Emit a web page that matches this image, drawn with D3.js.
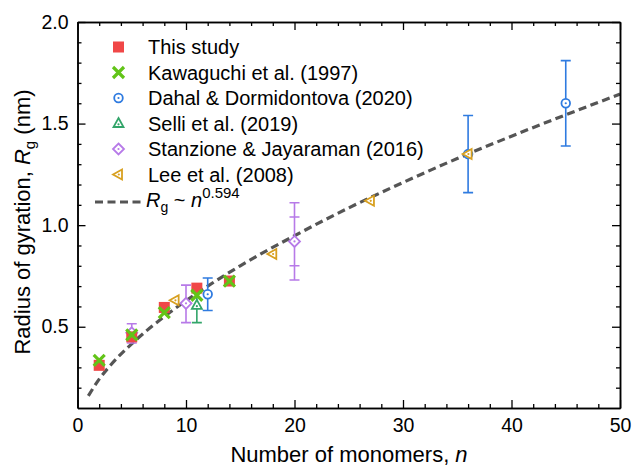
<!DOCTYPE html>
<html><head><meta charset="utf-8">
<script src="https://cdn.jsdelivr.net/npm/d3@7/dist/d3.min.js"></script>
<style>body{margin:0;background:#fff}svg{display:block}text{font-family:"Liberation Sans",Arial,sans-serif}</style>
</head><body><svg id="c" width="633" height="469"></svg>
<script>
// ---- data ----
const thisN = [2, 5, 8, 11, 14];
const thisRg = [0.31, 0.45, 0.595, 0.69, 0.725];
const kawaN = [2, 5, 8, 11, 14];
const kawaRg = [0.335, 0.46, 0.57, 0.655, 0.725];
const dahalN = [12, 36, 45];
const dahalRg = [0.66, 1.35, 1.60];
const dahalLo = [0.58, 1.16, 1.39];
const dahalHi = [0.74, 1.54, 1.81];
const selliN = [11];
const selliRg = [0.605];
const selliLo = [0.52];
const selliHi = [0.675];
const stanN = [5, 10, 20];
const stanRg = [0.47, 0.615, 0.92];
const stanLo = [0.42, 0.52, 0.73];
const stanHi = [0.515, 0.705, 1.11];
const stanInnerN = [20];
const stanInnerLo = [0.80];
const stanInnerHi = [1.04];
const leeN = [9, 18, 27, 36];
const leeRg = [0.63, 0.858, 1.12, 1.35];
const fitN = [1, 2, 3, 5, 8, 10, 12, 15, 20, 25, 30, 35, 40, 45, 50];
const fitRg = [0.16, 0.242, 0.308, 0.416, 0.55, 0.628, 0.70, 0.80, 0.948, 1.085, 1.21, 1.328, 1.438, 1.543, 1.645];
const xMajor = [0, 10, 20, 30, 40, 50];
const yMajor = [0.5, 1.0, 1.5, 2.0];
const legendLabels = ["This study", "Kawaguchi et al. (1997)", "Dahal & Dormidontova (2020)", "Selli et al. (2019)", "Stanzione & Jayaraman (2016)", "Lee et al. (2008)"];

const C = {red:"#f04747", green:"#62c418", blue:"#2f7be0", teal:"#33a56a", purple:"#b77ae8", gold:"#d8a020", fit:"#555555"};

const svg = d3.select("#c");
const L = 77.5, R = 620, T = 22, B = 408;
const x = d3.scaleLinear().domain([0, 50]).range([L, R]);
const y = d3.scaleLinear().domain([0.1, 2.0]).range([B, T]);

// fit curve
const line = d3.line().x((d,i)=>x(fitN[i])).y(d=>y(d)).curve(d3.curveMonotoneX);
svg.append("path").attr("d", line(fitRg)).attr("fill","none").attr("stroke",C.fit)
  .attr("stroke-width",3.2).attr("stroke-dasharray","8,4.5");

// axes
function styleAxis(g){ g.selectAll("path.domain").attr("stroke","#000").attr("stroke-width",1.5);
  g.selectAll(".tick line").attr("stroke","#000").attr("stroke-width",1.3);
  g.selectAll("text").attr("font-size",19.5).attr("fill","#000").attr("font-family","Liberation Sans, Arial, sans-serif"); }
const xMinor = d3.range(0, 51, 2).filter(v => v % 10 !== 0);
const yMinor = d3.range(2, 20).map(v => v/10).filter(v => Math.abs(v*2 - Math.round(v*2)) > 1e-6);

svg.append("g").attr("transform",`translate(0,${B})`).call(d3.axisBottom(x).tickValues(xMajor).tickSize(-8).tickSizeOuter(0).tickPadding(10).tickFormat(d3.format("d"))).call(styleAxis);
svg.append("g").attr("transform",`translate(0,${B})`).call(d3.axisBottom(x).tickValues(xMinor).tickSize(-4).tickSizeOuter(0).tickFormat("")).call(styleAxis);
svg.append("g").attr("transform",`translate(0,${T})`).call(d3.axisTop(x).tickValues(xMajor).tickSize(-8).tickSizeOuter(0).tickFormat("")).call(styleAxis);
svg.append("g").attr("transform",`translate(0,${T})`).call(d3.axisTop(x).tickValues(xMinor).tickSize(-4).tickSizeOuter(0).tickFormat("")).call(styleAxis);
svg.append("g").attr("transform",`translate(${L},0)`).call(d3.axisLeft(y).tickValues(yMajor).tickSize(-8).tickSizeOuter(0).tickPadding(9).tickFormat(d3.format(".1f"))).call(styleAxis);
svg.append("g").attr("transform",`translate(${L},0)`).call(d3.axisLeft(y).tickValues(yMinor).tickSize(-4).tickSizeOuter(0).tickFormat("")).call(styleAxis);
svg.append("g").attr("transform",`translate(${R},0)`).call(d3.axisRight(y).tickValues(yMajor).tickSize(-8).tickSizeOuter(0).tickFormat("")).call(styleAxis);
svg.append("g").attr("transform",`translate(${R},0)`).call(d3.axisRight(y).tickValues(yMinor).tickSize(-4).tickSizeOuter(0).tickFormat("")).call(styleAxis);

// markers
function marker(g, type, cx, cy, col){
  if(type==="square"){ g.append("rect").attr("x",cx-5.5).attr("y",cy-5.5).attr("width",11).attr("height",11).attr("fill",col); }
  else if(type==="x"){ const s=5.5; g.append("path").attr("d",`M${cx-s},${cy-s}L${cx+s},${cy+s}M${cx-s},${cy+s}L${cx+s},${cy-s}`).attr("stroke",col).attr("stroke-width",3.2).attr("fill","none"); }
  else {
    let d;
    if(type==="circle") d = null;
    else if(type==="tri") d = `M${cx},${cy-5.5}L${cx+5},${cy+3.5}L${cx-5},${cy+3.5}Z`;
    else if(type==="diamond") d = `M${cx},${cy-5.5}L${cx+5.5},${cy}L${cx},${cy+5.5}L${cx-5.5},${cy}Z`;
    else if(type==="ltri") d = `M${cx-5.5},${cy}L${cx+3.5},${cy-5}L${cx+3.5},${cy+5}Z`;
    if(d===null) g.append("circle").attr("cx",cx).attr("cy",cy).attr("r",4.3).attr("fill","#fff").attr("stroke",col).attr("stroke-width",1.8);
    else g.append("path").attr("d",d).attr("fill","#fff").attr("stroke",col).attr("stroke-width",1.8).attr("stroke-linejoin","miter");
    const dy = type==="tri" ? 0.8 : 0;
    g.append("circle").attr("cx",cx+(type==="ltri"?0.3:0)).attr("cy",cy+dy).attr("r",1.1).attr("fill",col);
  }
}
function errbar(g, n, lo, hi, col){
  const xx = x(n), y1 = y(lo), y2 = y(hi);
  g.append("path").attr("d",`M${xx},${y1}L${xx},${y2}M${xx-5},${y1}L${xx+5},${y1}M${xx-5},${y2}L${xx+5},${y2}`)
   .attr("stroke",col).attr("stroke-width",1.6).attr("fill","none");
}
const gp = svg.append("g");
stanN.forEach((n,i)=>errbar(gp,n,stanLo[i],stanHi[i],C.purple));
stanInnerN.forEach((n,i)=>{ const xx=x(n); gp.append("path").attr("d",`M${xx-5},${y(stanInnerLo[i])}L${xx+5},${y(stanInnerLo[i])}M${xx-5},${y(stanInnerHi[i])}L${xx+5},${y(stanInnerHi[i])}`).attr("stroke",C.purple).attr("stroke-width",1.6); });
stanN.forEach((n,i)=>marker(gp,"diamond",x(n),y(stanRg[i]),C.purple));
selliN.forEach((n,i)=>errbar(gp,n,selliLo[i],selliHi[i],C.teal));
selliN.forEach((n,i)=>marker(gp,"tri",x(n),y(selliRg[i]),C.teal));
dahalN.forEach((n,i)=>errbar(gp,n,dahalLo[i],dahalHi[i],C.blue));
dahalN.forEach((n,i)=>marker(gp,"circle",x(n),y(dahalRg[i]),C.blue));
leeN.forEach((n,i)=>marker(gp,"ltri",x(n),y(leeRg[i]),C.gold));
thisN.forEach((n,i)=>marker(gp,"square",x(n),y(thisRg[i]),C.red));
kawaN.forEach((n,i)=>marker(gp,"x",x(n),y(kawaRg[i]),C.green));

// legend
const legTypes = ["square","x","circle","tri","diamond","ltri"];
const legCols = [C.red,C.green,C.blue,C.teal,C.purple,C.gold];
const lg = svg.append("g");
legendLabels.forEach((t,i)=>{
  const cy = 47 + i*25.5;
  marker(lg, legTypes[i], 118.5, cy, legCols[i]);
  lg.append("text").attr("x",148).attr("y",cy+7).attr("font-size",20).attr("fill","#000").text(t);
});
const fy = 47 + 6*25.5 + 2;
lg.append("line").attr("x1",95).attr("x2",142).attr("y1",fy).attr("y2",fy).attr("stroke",C.fit).attr("stroke-width",3.2).attr("stroke-dasharray","8,4.5");
const ft = lg.append("text").attr("x",146).attr("y",fy+5).attr("font-size",20).attr("fill","#000");
ft.append("tspan").attr("font-style","italic").text("R");
ft.append("tspan").attr("font-size",14).attr("dy",5).text("g");
ft.append("tspan").attr("dy",-5).text(" ~ ");
ft.append("tspan").attr("font-style","italic").text("n");
ft.append("tspan").attr("font-size",15).attr("dy",-9).text("0.594");

// axis titles
const xt = svg.append("text").attr("x",349).attr("y",462).attr("text-anchor","middle").attr("font-size",22).attr("fill","#000");
xt.append("tspan").text("Number of monomers, ");
xt.append("tspan").attr("font-style","italic").text("n");
const yt = svg.append("text").attr("transform","translate(30,222) rotate(-90)").attr("text-anchor","middle").attr("font-size",22).attr("fill","#000");
yt.append("tspan").text("Radius of gyration, ");
yt.append("tspan").attr("font-style","italic").text("R");
yt.append("tspan").attr("font-size",15).attr("dy",5).text("g");
yt.append("tspan").attr("dy",-5).text(" (nm)");
</script></body></html>
